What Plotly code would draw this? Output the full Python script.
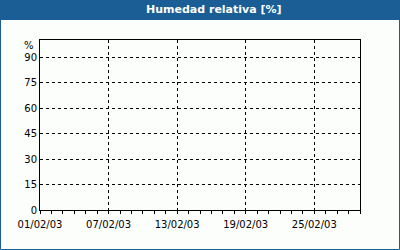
import plotly.graph_objects as go

# Data (no measurements shown in the reference)
dates = []
humidity = []

x_range = ["2003-02-01", "2003-03-01"]
x_tickvals = ["2003-02-01", "2003-02-07", "2003-02-13", "2003-02-19", "2003-02-25"]
x_ticktext = ["01/02/03", "07/02/03", "13/02/03", "19/02/03", "25/02/03"]
y_tickvals = [0, 15, 30, 45, 60, 75, 90]
title_text = "Humedad relativa [%]"
y_unit = "%"

BLUE = "#1b5e96"
BG = "#fcfefc"
L, R, T, B = 40, 40, 40, 40
W, H = 400, 250
pw, ph = W - L - R, H - T - B

def px_x(x):
    return (x - L) / pw

def px_y(y):
    return (H - B - y) / ph

fig = go.Figure()
fig.add_trace(go.Scatter(x=dates, y=humidity, mode="lines", line=dict(color="black", width=1), showlegend=False))

fig.update_layout(
    width=W, height=H,
    margin=dict(l=L, r=R, t=T, b=B),
    paper_bgcolor=BG, plot_bgcolor=BG,
    font=dict(family="DejaVu Sans", size=10, color="black"),
    showlegend=False,
    xaxis=dict(
        type="date", range=x_range, tickvals=x_tickvals, ticktext=x_ticktext,
        showgrid=True, gridcolor="black", gridwidth=1, griddash="dot",
        showline=True, linecolor="black", linewidth=1, mirror=True,
        ticks="outside", ticklen=3, tickcolor="black", ticklabelstandoff=2,
        minor=dict(dtick=86400000, ticks="outside", ticklen=3, tickcolor="black", showgrid=False),
        zeroline=False, fixedrange=True,
    ),
    yaxis=dict(
        range=[0, 100], tickvals=y_tickvals,
        showgrid=True, gridcolor="black", gridwidth=1, griddash="dot",
        showline=True, linecolor="black", linewidth=1, mirror=True,
        ticks="", zeroline=False, fixedrange=True,
    ),
    shapes=[
        dict(type="rect", xref="paper", yref="paper",
             x0=px_x(0), x1=px_x(W), y0=px_y(20), y1=px_y(0),
             fillcolor=BLUE, line=dict(width=0), layer="above"),
        dict(type="rect", xref="paper", yref="paper",
             x0=px_x(0.5), x1=px_x(W - 0.5), y0=px_y(H - 0.5), y1=px_y(0.5),
             fillcolor="rgba(0,0,0,0)", line=dict(color=BLUE, width=1), layer="above"),
    ],
    annotations=[
        dict(text="<b>" + title_text + "</b>", xref="paper", yref="paper",
             x=px_x(213.5), y=px_y(10), showarrow=False,
             font=dict(family="DejaVu Sans", size=11, color="white"),
             xanchor="center", yanchor="middle"),
        dict(text=y_unit, xref="paper", yref="paper",
             x=px_x(36), y=px_y(45), showarrow=False,
             xanchor="right", yanchor="middle"),
    ],
)

fig.write_html("out.html")
